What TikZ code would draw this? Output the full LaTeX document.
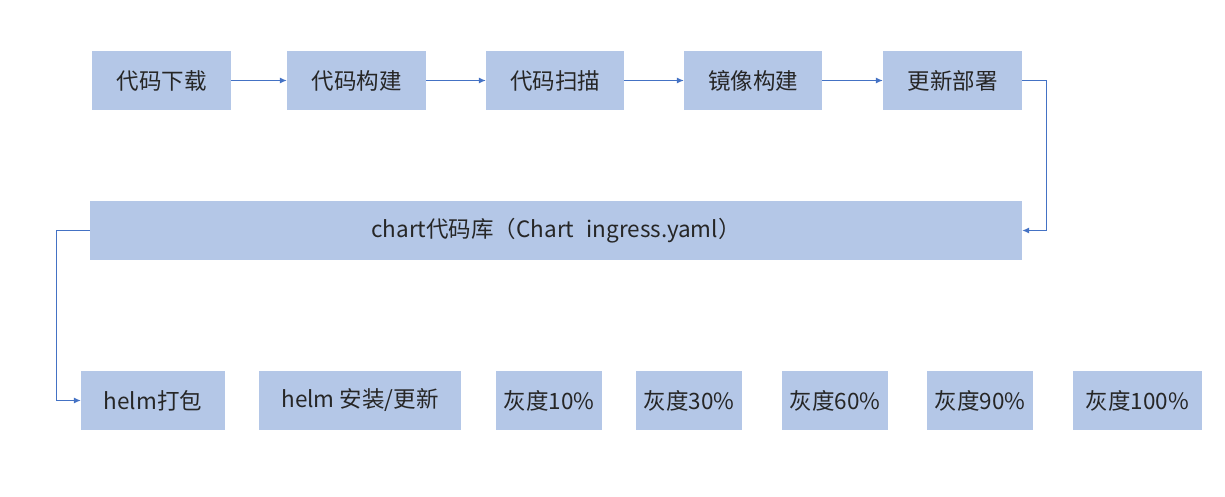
\documentclass[tikz,border=0pt]{standalone}
\usepackage{fontspec}
\setmainfont{Noto Sans CJK SC}
\usetikzlibrary{arrows.meta,positioning}
\definecolor{boxfill}{HTML}{B4C7E7}
\definecolor{linkblue}{HTML}{4472C4}
\tikzset{
  procbox/.style={fill=boxfill, inner sep=0pt, minimum height=59pt, text=black!85,
    font=\fontsize{22.5}{26}\selectfont},
  link/.style={draw=linkblue, line width=1pt, -{Latex[length=7pt,width=6pt]}},
}

\begin{document}
\begin{tikzpicture}[x=1pt, y=-1pt]
  \useasboundingbox (0,0) rectangle (1225,497);
  % Pipeline steps (top row).
  \node[procbox, minimum width=139pt] (fetch)  at (161.5,80.5) {代码下载};
  \node[procbox, minimum width=139pt] (build)  at (356.5,80.5) {代码构建};
  \node[procbox, minimum width=138pt] (scan)   at (555,80.5)   {代码扫描};
  \node[procbox, minimum width=138pt] (image)  at (753,80.5)   {镜像构建};
  \node[procbox, minimum width=139pt] (deploy) at (952.5,80.5) {更新部署};
  % Chart repository.
  \node[procbox, minimum width=932pt] (chart)  at (556,230.5)
    {chart代码库（Chart\hspace{0.55em}ingress.yaml）};
  % Release steps (bottom row).
  \node[procbox, minimum width=144pt] (pack)    at (153,400.5)   {helm打包};
  \node[procbox, minimum width=202pt] (install) at (360,400.5)   {helm 安装/更新};
  \node[procbox, minimum width=106pt] (gray10)  at (549,400.5)   {灰度10\%};
  \node[procbox, minimum width=106pt] (gray30)  at (689,400.5)   {灰度30\%};
  \node[procbox, minimum width=106pt] (gray60)  at (835,400.5)   {灰度60\%};
  \node[procbox, minimum width=106pt] (gray90)  at (980,400.5)   {灰度90\%};
  \node[procbox, minimum width=129pt] (gray100) at (1137.5,400.5) {灰度100\%};
  % Connectors.
  \draw[link] (fetch) -- (build);
  \draw[link] (build) -- (scan);
  \draw[link] (scan) -- (image);
  \draw[link] (image) -- (deploy);
  \draw[link] (deploy.east) -- ++(24,0) |- (chart.east);
  \draw[link] (chart.west) -- ++(-33,0) |- (pack.west);
\end{tikzpicture}
\end{document}
